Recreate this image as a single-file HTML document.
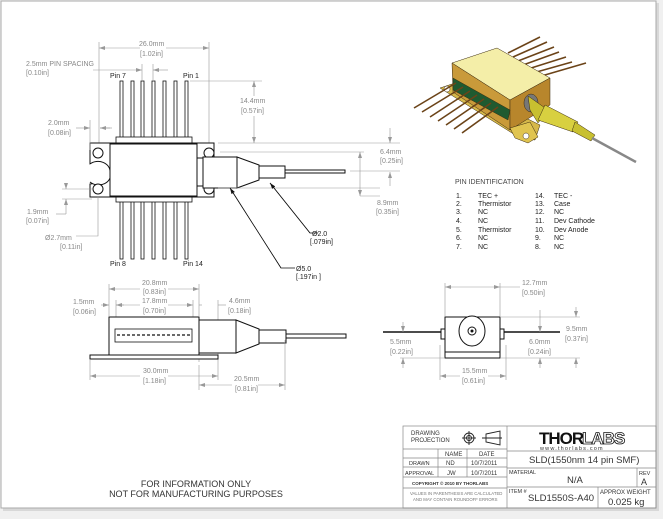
<!DOCTYPE html>
<html><head><meta charset="utf-8"><style>
html,body{margin:0;padding:0;background:#f0f0f0;}
svg{display:block;font-family:"Liberation Sans",sans-serif;}
.d{fill:#888;font-size:7px;}
.k{fill:#222;font-size:7px;}
.l{stroke:#999;stroke-width:.6;fill:none;}
.o{stroke:#111;stroke-width:1;fill:#fff;}
.p{stroke:#111;stroke-width:.8;fill:#fff;}
</style></head><body>
<svg width="663" height="519" viewBox="0 0 663 519">
<defs>
<marker id="a" markerWidth="6" markerHeight="4" refX="6" refY="2" orient="auto-start-reverse" markerUnits="userSpaceOnUse"><path d="M0,0L6,2L0,4z" fill="#999"/></marker>
<marker id="b" markerWidth="6" markerHeight="4" refX="6" refY="2" orient="auto" markerUnits="userSpaceOnUse"><path d="M0,0L6,2L0,4z" fill="#111"/></marker>
</defs>
<rect x="3" y="3" width="656" height="508" fill="#d8d8d8"/>
<rect x="1" y="1" width="655" height="507" fill="#fff" stroke="#aaa" stroke-width="1"/>

<!-- TOP VIEW -->
<g>
<line class="l" x1="99" y1="42" x2="99" y2="145"/><line class="l" x1="209" y1="42" x2="209" y2="145"/>
<line class="l" x1="99" y1="48" x2="140" y2="48" marker-start="url(#a)"/><line class="l" x1="166" y1="48" x2="209" y2="48" marker-end="url(#a)"/>
<text class="d" x="139" y="46">26.0mm</text><text class="d" x="140" y="56">[1.02in]</text>
<text class="d" x="26" y="66">2.5mm  PIN SPACING</text><text class="d" x="26" y="75">[0.10in]</text>
<line class="l" x1="93" y1="70" x2="142" y2="70" marker-end="url(#a)"/><line class="l" x1="168" y1="70" x2="153" y2="70" marker-end="url(#a)"/>
<line class="l" x1="142" y1="64" x2="142" y2="80"/><line class="l" x1="153" y1="64" x2="153" y2="80"/>
<text class="k" x="110" y="78">Pin 7</text><text class="k" x="183" y="78">Pin 1</text>
<g class="p">
<rect x="120" y="81" width="3" height="57"/><rect x="131" y="81" width="3" height="57"/><rect x="141" y="81" width="3" height="57"/><rect x="152" y="81" width="3" height="57"/><rect x="163" y="81" width="3" height="57"/><rect x="174" y="81" width="3" height="57"/><rect x="185" y="81" width="3" height="57"/>
<rect x="120" y="199" width="3" height="60"/><rect x="131" y="199" width="3" height="60"/><rect x="141" y="199" width="3" height="60"/><rect x="152" y="199" width="3" height="60"/><rect x="163" y="199" width="3" height="60"/><rect x="174" y="199" width="3" height="60"/><rect x="185" y="199" width="3" height="60"/>
<rect x="116" y="137" width="76" height="6"/><rect x="116" y="197" width="76" height="5"/>
</g>
<path class="o" d="M92,143H216V197H92V184A10,10 0 0 0 92,164Z" transform="translate(-2,0)"/>
<path class="o" d="M90,164A12,10 0 0 1 110,172A12,10 0 0 1 90,182" fill="none"/>
<rect class="o" x="110" y="144" width="87" height="52" stroke-width="1.3"/>
<g class="o"><circle cx="98" cy="153" r="5"/><circle cx="98" cy="189" r="5"/><circle cx="209" cy="153" r="5"/><circle cx="209" cy="189" r="5"/></g>
<rect class="o" x="197" y="158" width="6" height="28"/>
<rect class="o" x="203" y="157" width="34" height="31"/>
<path class="o" d="M237,157L259,165V180L237,188Z"/>
<rect class="o" x="259" y="166" width="26" height="12"/>
<rect class="o" x="285" y="170" width="60" height="3" stroke-width=".7"/>
<line class="l" x1="190" y1="81" x2="262" y2="81"/><line class="l" x1="218" y1="143" x2="400" y2="143"/>
<line class="l" x1="254" y1="81" x2="254" y2="143" marker-start="url(#a)" marker-end="url(#a)"/>
<rect x="238" y="96" width="34" height="20" fill="#fff"/>
<text class="d" x="240" y="103">14.4mm</text><text class="d" x="241" y="113">[0.57in]</text>
<line class="l" x1="390" y1="128" x2="390" y2="143" marker-end="url(#a)"/><line class="l" x1="390" y1="186" x2="390" y2="172" marker-end="url(#a)"/>
<line class="l" x1="350" y1="171" x2="400" y2="171"/>
<text class="d" x="380" y="154">6.4mm</text><text class="d" x="380" y="163">[0.25in]</text>
<line class="l" x1="218" y1="188" x2="380" y2="188"/><line class="l" x1="220" y1="152" x2="364" y2="152"/>
<line class="l" x1="360" y1="152" x2="360" y2="196" marker-start="url(#a)" marker-end="url(#a)"/>
<text class="d" x="377" y="205">8.9mm</text><text class="d" x="376" y="214">[0.35in]</text>
<line class="l" x1="360" y1="196" x2="380" y2="196"/>
<line class="l" x1="90" y1="120" x2="90" y2="150"/><line class="l" x1="100" y1="128" x2="110" y2="128"/>
<line class="l" x1="76" y1="128" x2="90" y2="128" marker-end="url(#a)"/><line class="l" x1="112" y1="128" x2="100" y2="128" marker-end="url(#a)"/>
<text class="d" x="48" y="125">2.0mm</text><text class="d" x="48" y="135">[0.08in]</text>
<line class="l" x1="62" y1="189" x2="92" y2="189"/><line class="l" x1="62" y1="199" x2="92" y2="199"/>
<line class="l" x1="66" y1="183" x2="66" y2="189" marker-end="url(#a)"/><line class="l" x1="66" y1="207" x2="66" y2="199" marker-end="url(#a)"/>
<line class="l" x1="56" y1="214" x2="66" y2="214"/><line class="l" x1="66" y1="207" x2="66" y2="214"/>
<text class="d" x="27" y="214">1.9mm</text><text class="d" x="26" y="223">[0.07in]</text>
<polyline class="l" points="98,196 98,236 76,236"/>
<text class="d" x="45" y="240">Ø2.7mm</text><text class="d" x="60" y="249">[0.11in]</text>
<polyline points="270,183 310,233 318,233" fill="none" stroke="#111" stroke-width=".7"/>
<line x1="310" y1="233" x2="270" y2="183" stroke="#111" stroke-width=".7" marker-end="url(#b)"/>
<polyline points="230,188 281,268 295,268" fill="none" stroke="#111" stroke-width=".7"/>
<line x1="281" y1="268" x2="230" y2="188" stroke="#111" stroke-width=".7" marker-end="url(#b)"/>
<text class="k" x="312" y="236">Ø2.0</text><text class="k" x="310" y="244">[.079in]</text>
<text class="k" x="296" y="271">Ø5.0</text><text class="k" x="296" y="279">[.197in ]</text>
<text class="k" x="110" y="266">Pin 8</text><text class="k" x="183" y="266">Pin 14</text>
</g>

<!-- SIDE VIEW -->
<g>
<line class="l" x1="109" y1="284" x2="109" y2="316"/><line class="l" x1="199" y1="284" x2="199" y2="316"/>
<line class="l" x1="109" y1="289" x2="140" y2="289" marker-start="url(#a)"/><line class="l" x1="168" y1="289" x2="199" y2="289" marker-end="url(#a)"/>
<text class="d" x="142" y="285">20.8mm</text><text class="d" x="143" y="294">[0.83in]</text>
<line class="l" x1="116" y1="305" x2="140" y2="305" marker-start="url(#a)"/><line class="l" x1="168" y1="305" x2="193" y2="305" marker-end="url(#a)"/>
<line class="l" x1="116" y1="300" x2="116" y2="328"/><line class="l" x1="193" y1="300" x2="193" y2="328"/>
<text class="d" x="142" y="303">17.8mm</text><text class="d" x="143" y="313">[0.70in]</text>
<line class="l" x1="101" y1="305" x2="109" y2="305" marker-end="url(#a)"/><line class="l" x1="124" y1="305" x2="116" y2="305"/>
<text class="d" x="73" y="304">1.5mm</text><text class="d" x="73" y="314">[0.06in]</text>
<line class="l" x1="199" y1="317" x2="199" y2="362"/><line class="l" x1="218" y1="300" x2="218" y2="360"/>
<line class="l" x1="202" y1="305" x2="199" y2="305"/><line class="l" x1="218" y1="305" x2="226" y2="305"/>
<text class="d" x="229" y="303">4.6mm</text><text class="d" x="228" y="313">[0.18in]</text>
<rect class="o" x="90" y="355" width="128" height="4"/>
<rect class="o" x="109" y="317" width="90" height="38" stroke-width="1.2"/>
<rect x="115" y="329" width="77" height="13" fill="#fff" stroke="#111" stroke-width=".8"/>
<line x1="117" y1="335" x2="190" y2="335" stroke="#111" stroke-width="1.2" stroke-dasharray="3,2"/>
<rect class="o" x="199" y="320" width="37" height="33"/>
<path class="o" d="M236,320L259,329V344L236,353Z"/>
<rect class="o" x="259" y="330" width="27" height="13"/>
<rect class="o" x="286" y="334" width="60" height="4" stroke-width=".7"/>
<line class="l" x1="90" y1="360" x2="90" y2="380"/><line class="l" x1="218" y1="360" x2="218" y2="380"/>
<line class="l" x1="90" y1="376" x2="140" y2="376" marker-start="url(#a)"/><line class="l" x1="168" y1="376" x2="218" y2="376" marker-end="url(#a)"/>
<text class="d" x="143" y="373">30.0mm</text><text class="d" x="143" y="383">[1.18in]</text>
<line class="l" x1="285" y1="340" x2="285" y2="390"/><line class="l" x1="199" y1="365" x2="199" y2="390"/>
<line class="l" x1="199" y1="385" x2="232" y2="385" marker-start="url(#a)"/><line class="l" x1="258" y1="385" x2="285" y2="385" marker-end="url(#a)"/>
<text class="d" x="234" y="381">20.5mm</text><text class="d" x="235" y="391">[0.81in]</text>
</g>

<!-- END VIEW -->
<g>
<line class="l" x1="445" y1="283" x2="445" y2="316"/><line class="l" x1="500" y1="283" x2="500" y2="316"/>
<line class="l" x1="445" y1="287" x2="500" y2="287" marker-start="url(#a)" marker-end="url(#a)"/>
<line class="l" x1="500" y1="287" x2="520" y2="287"/>
<text class="d" x="522" y="285">12.7mm</text><text class="d" x="522" y="295">[0.50in]</text>
<line x1="383" y1="332" x2="560" y2="332" stroke="#111" stroke-width="1.6"/>
<rect class="o" x="441" y="329" width="5" height="10"/><rect class="o" x="499" y="329" width="5" height="10"/>
<rect class="o" x="445" y="317" width="55" height="41" stroke-width="1.2"/>
<line x1="445" y1="352" x2="500" y2="352" stroke="#111"/>
<ellipse class="o" cx="472" cy="331" rx="13" ry="15"/>
<circle class="o" cx="472" cy="331" r="4"/><circle cx="472" cy="331" r="1.5" fill="#111"/>
<line class="l" x1="500" y1="317" x2="580" y2="317"/><line class="l" x1="500" y1="358" x2="580" y2="358"/>
<line class="l" x1="576" y1="307" x2="576" y2="317" marker-end="url(#a)"/><line class="l" x1="576" y1="368" x2="576" y2="358" marker-end="url(#a)"/>
<text class="d" x="566" y="331">9.5mm</text><text class="d" x="565" y="341">[0.37in]</text>
<line class="l" x1="540" y1="310" x2="540" y2="332" marker-end="url(#a)"/><line class="l" x1="540" y1="368" x2="540" y2="358" marker-end="url(#a)"/>
<text class="d" x="529" y="344">6.0mm</text><text class="d" x="528" y="354">[0.24in]</text>
<line class="l" x1="400" y1="358" x2="445" y2="358"/>
<line class="l" x1="403" y1="322" x2="403" y2="332" marker-end="url(#a)"/><line class="l" x1="403" y1="368" x2="403" y2="358" marker-end="url(#a)"/>
<text class="d" x="390" y="344">5.5mm</text><text class="d" x="390" y="354">[0.22in]</text>
<line class="l" x1="440" y1="345" x2="440" y2="380"/><line class="l" x1="506" y1="345" x2="506" y2="380"/>
<line class="l" x1="440" y1="376" x2="460" y2="376" marker-start="url(#a)"/><line class="l" x1="488" y1="376" x2="506" y2="376" marker-end="url(#a)"/>
<text class="d" x="462" y="373">15.5mm</text><text class="d" x="462" y="383">[0.61in]</text>
</g>

<!-- 3D render -->
<g stroke="#3a2a10" stroke-width=".5">
<g stroke="#6b4318" stroke-width="1.6">
<line x1="508" y1="53" x2="540" y2="37"/><line x1="513" y1="57" x2="547" y2="42"/><line x1="518" y1="61" x2="554" y2="47"/><line x1="523" y1="65" x2="559" y2="52"/><line x1="528" y1="69" x2="566" y2="57"/><line x1="533" y1="73" x2="572" y2="62"/><line x1="538" y1="77" x2="586" y2="63"/>
</g>
<path d="M440,88L455,83L540,125L535,140L520,138Z" fill="#d6b84a"/>
<circle cx="447" cy="89" r="3" fill="#fff"/>
<path d="M452,63L497,48L550,78L510,100Z" fill="#f4eea8"/>
<path d="M452,63L510,100L510,130L453,92Z" fill="#c99a3a"/>
<path d="M510,100L550,78L550,105L510,130Z" fill="#b8862c"/>
<path d="M453,78L510,110L508,120L453,90Z" fill="#1f5a30"/>
<path d="M510,128L530,122L538,137L528,143L515,138Z" fill="#e0c450"/>
<circle cx="526" cy="136" r="3" fill="#fff"/>
<g stroke="#6b4318" stroke-width="1.6">
<line x1="456" y1="83" x2="414" y2="108"/><line x1="463" y1="87" x2="422" y2="112"/><line x1="470" y1="91" x2="430" y2="117"/><line x1="477" y1="95" x2="438" y2="121"/><line x1="484" y1="99" x2="446" y2="125"/><line x1="491" y1="103" x2="454" y2="129"/><line x1="498" y1="107" x2="462" y2="133"/>
</g>
<ellipse cx="531" cy="103" rx="7" ry="9" fill="#777"/>
<path d="M528,96L548,110L538,123L530,110Z" fill="#c8c030"/>
<path d="M545,105L578,122L573,132L538,120Z" fill="#d8d040"/>
<path d="M575,122L595,135L591,141L572,131Z" fill="#c8c030"/>
<line x1="592" y1="138" x2="636" y2="162" stroke="#888" stroke-width="2.5"/>
</g>

<!-- Pin identification -->
<g class="k" font-size="7.5">
<text x="455" y="184" fill="#444">PIN IDENTIFICATION</text>
<text x="456" y="198">1.</text><text x="478" y="198">TEC +</text><text x="535" y="198">14.</text><text x="554" y="198">TEC -</text>
<text x="456" y="206">2.</text><text x="478" y="206">Thermistor</text><text x="535" y="206">13.</text><text x="554" y="206">Case</text>
<text x="456" y="214">3.</text><text x="478" y="214">NC</text><text x="535" y="214">12.</text><text x="554" y="214">NC</text>
<text x="456" y="223">4.</text><text x="478" y="223">NC</text><text x="535" y="223">11.</text><text x="554" y="223">Dev Cathode</text>
<text x="456" y="232">5.</text><text x="478" y="232">Thermistor</text><text x="535" y="232">10.</text><text x="554" y="232">Dev Anode</text>
<text x="456" y="240">6.</text><text x="478" y="240">NC</text><text x="535" y="240">9.</text><text x="554" y="240">NC</text>
<text x="456" y="249">7.</text><text x="478" y="249">NC</text><text x="535" y="249">8.</text><text x="554" y="249">NC</text>
</g>

<!-- Title block -->
<g fill="none" stroke="#888" stroke-width=".7">
<rect x="403" y="426" width="253" height="82"/>
<line x1="507" y1="426" x2="507" y2="508"/>
<line x1="403" y1="449" x2="507" y2="449"/><line x1="403" y1="458" x2="507" y2="458"/><line x1="403" y1="467" x2="507" y2="467"/><line x1="403" y1="477" x2="507" y2="477"/><line x1="403" y1="488" x2="507" y2="488"/>
<line x1="438" y1="449" x2="438" y2="477"/><line x1="467" y1="449" x2="467" y2="477"/>
<line x1="507" y1="451" x2="656" y2="451"/><line x1="507" y1="468" x2="656" y2="468"/><line x1="507" y1="487" x2="656" y2="487"/>
<line x1="637" y1="468" x2="637" y2="487"/><line x1="598" y1="487" x2="598" y2="508"/>
</g>
<g fill="none" stroke="#222" stroke-width=".9">
<circle cx="469" cy="438" r="5"/><circle cx="469" cy="438" r="2.5"/><line x1="462" y1="438" x2="476" y2="438"/><line x1="469" y1="431" x2="469" y2="445"/>
<path d="M486,434L500,431V445L486,442Z"/><line x1="482" y1="438" x2="502" y2="438"/>
</g>
<g font-size="6" fill="#333">
<text x="411" y="435">DRAWING</text><text x="411" y="442">PROJECTION</text>
<text x="445" y="456">NAME</text><text x="479" y="456">DATE</text>
<text x="409" y="465" font-size="5.5">DRAWN</text><text x="446" y="465">ND</text><text x="471" y="465">10/7/2011</text>
<text x="405" y="475" font-size="5.5">APPROVAL</text><text x="447" y="475">JW</text><text x="471" y="475">10/7/2011</text>
<text x="412" y="485" font-size="4.5" font-weight="bold">COPYRIGHT © 2010 BY THORLABS</text>
<text x="410" y="495" font-size="4.3" fill="#777">VALUES IN PARENTHESIS ARE CALCULATED</text>
<text x="413" y="501" font-size="4.3" fill="#777">AND MAY CONTAIN ROUNDOFF ERRORS</text>
<text x="539" y="444" font-size="17" font-weight="bold" fill="#111" letter-spacing="-1">THOR</text>
<text x="582" y="444" font-size="17" font-weight="bold" fill="#fff" stroke="#111" stroke-width=".8" letter-spacing="-1">LABS</text>
<text x="540" y="450" font-size="5.5" letter-spacing="1.2">www.thorlabs.com</text>
<text x="529" y="463" font-size="9.5">SLD(1550nm 14 pin SMF)</text>
<text x="509" y="474" font-size="5.5">MATERIAL</text>
<text x="567" y="483" font-size="9.5">N/A</text>
<text x="639" y="475" font-size="5.5">REV</text><text x="641" y="485" font-size="9">A</text>
<text x="509" y="493" font-size="5.5">ITEM #</text>
<text x="528" y="501" font-size="9.5">SLD1550S-A40</text>
<text x="600" y="494" font-size="6">APPROX WEIGHT</text>
<text x="608" y="505" font-size="9.5">0.025 kg</text>
</g>
<g font-size="9" fill="#333" text-anchor="middle">
<text x="196" y="487">FOR INFORMATION ONLY</text>
<text x="196" y="497">NOT FOR MANUFACTURING PURPOSES</text>
</g>
</svg>
</body></html>
